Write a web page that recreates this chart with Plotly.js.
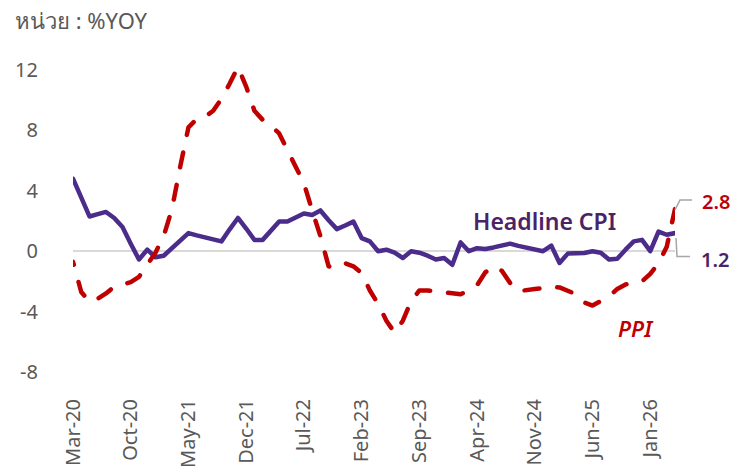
<!DOCTYPE html>
<html>
<head>
<meta charset="utf-8">
<script src="https://cdn.plot.ly/plotly-3.0.1.min.js"></script>
<style>
  html, body { margin: 0; padding: 0; background: #ffffff; }
  #chart { width: 735px; height: 469px; }
  .scatterlayer .js-line { stroke-linecap: round; stroke-linejoin: round; stroke-dashoffset: 12px; }
</style>
</head>
<body>
<div id="chart"></div>
<script>
const months = [
  "Mar-20","Apr-20","May-20","Jun-20","Jul-20","Aug-20","Sep-20","Oct-20","Nov-20","Dec-20",
  "Jan-21","Feb-21","Mar-21","Apr-21","May-21","Jun-21","Jul-21","Aug-21","Sep-21","Oct-21","Nov-21","Dec-21",
  "Jan-22","Feb-22","Mar-22","Apr-22","May-22","Jun-22","Jul-22","Aug-22","Sep-22","Oct-22","Nov-22","Dec-22",
  "Jan-23","Feb-23","Mar-23","Apr-23","May-23","Jun-23","Jul-23","Aug-23","Sep-23","Oct-23","Nov-23","Dec-23",
  "Jan-24","Feb-24","Mar-24","Apr-24","May-24","Jun-24","Jul-24","Aug-24","Sep-24","Oct-24","Nov-24","Dec-24",
  "Jan-25","Feb-25","Mar-25","Apr-25","May-25","Jun-25","Jul-25","Aug-25","Sep-25","Oct-25","Nov-25","Dec-25",
  "Jan-26","Feb-26","Mar-26","Apr-26"
];

const headlineCPI = [
  4.8, 3.5, 2.3, 2.45, 2.6, 2.2, 1.6, 0.5, -0.55, 0.1,
  -0.4, -0.3, 0.2, 0.65, 1.2, 1.05, 0.9, 0.75, 0.65, 1.45, 2.2, 1.5,
  0.75, 0.75, 1.35, 1.96, 1.96, 2.25, 2.5, 2.4, 2.7, 2.05, 1.46, 1.7,
  1.96, 0.87, 0.65, 0.0, 0.1, -0.1, -0.45, 0.0, -0.1, -0.3, -0.55, -0.45,
  -0.9, 0.58, 0.0, 0.2, 0.15, 0.25, 0.4, 0.5, 0.35, 0.25, 0.12, 0.0,
  0.37, -0.78, -0.16, -0.16, -0.12, 0.0, -0.1, -0.55, -0.5, 0.1, 0.65, 0.75,
  0.0, 1.3, 1.09, 1.2
];

const ppi = [
  -0.7, -2.7, -3.35, -3.15, -2.8, -2.35, -2.2, -2.05, -1.7, -0.9,
  -0.1, 1.0, 2.8, 5.6, 8.2, 8.75, 8.9, 9.3, 10.1, 11.1, 12.2, 10.9,
  9.3, 8.7, 8.3, 7.8, 6.7, 5.6, 4.5, 2.7, 1.0, -1.0, -1.1, -0.8,
  -1.0, -1.45, -2.6, -3.5, -4.6, -5.4, -4.6, -3.3, -2.6, -2.6, -2.65, -2.75,
  -2.75, -2.85, -2.6, -2.25, -1.4, -1.0, -1.3, -2.1, -2.65, -2.55, -2.5, -2.45,
  -2.35, -2.4, -2.6, -2.85, -3.4, -3.6, -3.3, -3.0, -2.5, -2.2, -2.1, -2.0,
  -1.5, -0.8, 0.3, 2.8
];

const tickLabels = ["Mar-20","Oct-20","May-21","Dec-21","Jul-22","Feb-23","Sep-23","Apr-24","Nov-24","Jun-25","Jan-26"];
const yTicks = [-8, -4, 0, 4, 8, 12];
const yRange = [-8, 12];

const unitLabel = "หน่วย : %YOY";
const cpiName = "Headline CPI";
const ppiName = "PPI";

const FONT = "'Noto Sans', 'Open Sans', sans-serif";
const CPI_COLOR = "#4B2C8A";
const CPI_TEXT = "#4A2366";
const PPI_COLOR = "#C00000";
const GREY = "#595959";

const lastIdx = months.length - 1;
const toPaperY = v => (v - yRange[0]) / (yRange[1] - yRange[0]);

const traces = [
  {
    x: months, y: headlineCPI, type: "scatter", mode: "lines", name: cpiName,
    line: { color: CPI_COLOR, width: 4.5 }, hoverinfo: "skip"
  },
  {
    x: months, y: ppi, type: "scatter", mode: "lines", name: ppiName,
    line: { color: PPI_COLOR, width: 4.5, dash: "15px,18px" }, hoverinfo: "skip"
  }
];

const layout = {
  width: 735, height: 469,
  margin: { l: 73, r: 60, t: 70, b: 97, pad: 0 },
  paper_bgcolor: "#ffffff", plot_bgcolor: "#ffffff",
  showlegend: false,
  font: { family: FONT, color: GREY },
  xaxis: {
    type: "category",
    range: [0, lastIdx],
    tickmode: "array", tickvals: tickLabels, ticktext: tickLabels,
    tickangle: -90,
    ticks: "outside", ticklen: 18, tickcolor: "rgba(0,0,0,0)",
    tickfont: { family: FONT, size: 20, color: GREY },
    showgrid: false, zeroline: false, showline: false
  },
  yaxis: {
    range: yRange,
    tickmode: "array", tickvals: yTicks, ticktext: yTicks.map(String),
    ticks: "outside", ticklen: 30, tickcolor: "rgba(0,0,0,0)",
    tickfont: { family: FONT, size: 20, color: GREY },
    showgrid: false, showline: false,
    zeroline: true, zerolinecolor: "#D9D9D9", zerolinewidth: 2
  },
  annotations: [
    { xref: "paper", yref: "paper", x: -0.1, y: 1.165, xanchor: "left", yanchor: "middle",
      text: unitLabel, showarrow: false, font: { family: FONT, size: 22, color: GREY } },
    { xref: "paper", yref: "paper", x: 0.784, y: 0.5, xanchor: "center", yanchor: "middle",
      text: cpiName, showarrow: false, font: { family: FONT, size: 23, weight: 600, color: CPI_TEXT } },
    { xref: "paper", yref: "paper", x: 0.935, y: 0.1457, xanchor: "center", yanchor: "middle",
      text: "<i>" + ppiName + "</i>", showarrow: false, font: { family: FONT, size: 22, weight: 600, color: PPI_COLOR } },
    { xref: "paper", yref: "paper", x: 1.041, y: 0.566, xanchor: "left", yanchor: "middle",
      text: ppi[lastIdx].toFixed(1), showarrow: false, font: { family: FONT, size: 20, weight: 600, color: PPI_COLOR } },
    { xref: "paper", yref: "paper", x: 1.04, y: 0.371, xanchor: "left", yanchor: "middle",
      text: headlineCPI[lastIdx].toFixed(1), showarrow: false, font: { family: FONT, size: 20, weight: 600, color: CPI_TEXT } }
  ],
  shapes: [
    { type: "path", xref: "paper", yref: "paper", xsizemode: "pixel", ysizemode: "pixel",
      xanchor: 1, yanchor: toPaperY(ppi[lastIdx]),
      path: "M 0 -1 L 5 9 L 17 9", line: { color: "#A6A6A6", width: 1.5 } },
    { type: "path", xref: "paper", yref: "paper", xsizemode: "pixel", ysizemode: "pixel",
      xanchor: 1, yanchor: toPaperY(headlineCPI[lastIdx]),
      path: "M 1 -5 L 2 -23.5 L 15 -23.5", line: { color: "#A6A6A6", width: 1.5 } }
  ]
};

Plotly.newPlot("chart", traces, layout, { staticPlot: true, displayModeBar: false });
</script>
</body>
</html>
